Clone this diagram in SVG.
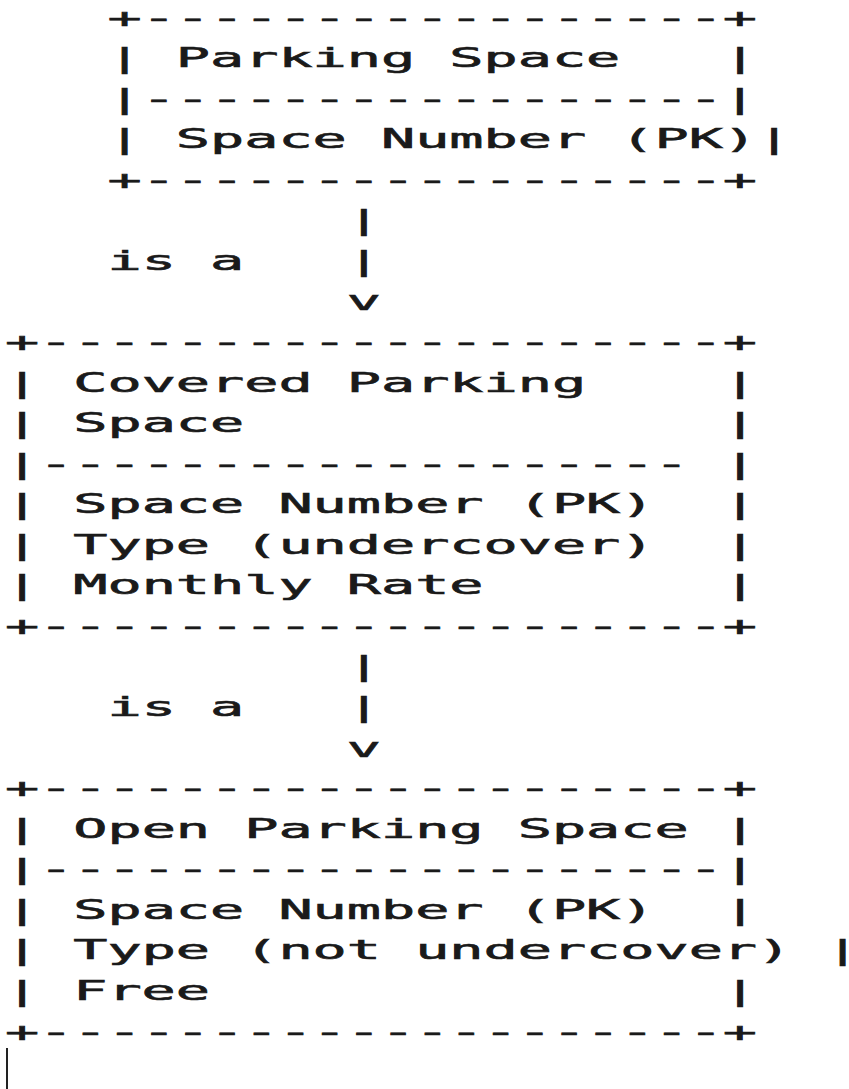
<svg xmlns="http://www.w3.org/2000/svg" width="849" height="1089" viewBox="0 0 849 1089">
<style>
text{font-family:"DejaVu Sans Mono","Liberation Mono",monospace;font-size:27.4px;fill:#1a1a1a;stroke:#1a1a1a;stroke-width:0.6px;white-space:pre}
</style>
<rect width="849" height="1089" fill="#ffffff"/>
<g id="node-parking-space">
<text x="107.47" y="26.5" textLength="649.61" lengthAdjust="spacingAndGlyphs">+-----------------+</text>
<text x="107.47" y="67.06" textLength="34.19" lengthAdjust="spacingAndGlyphs">|</text>
<text x="175.85" y="67.06" textLength="444.47" lengthAdjust="spacingAndGlyphs">Parking Space</text>
<text x="722.9" y="67.06" textLength="34.19" lengthAdjust="spacingAndGlyphs">|</text>
<text x="107.47" y="107.62" textLength="649.61" lengthAdjust="spacingAndGlyphs">|-----------------|</text>
<text x="107.47" y="148.18" textLength="34.19" lengthAdjust="spacingAndGlyphs">|</text>
<text x="175.85" y="148.18" textLength="581.23" lengthAdjust="spacingAndGlyphs">Space Number (PK)</text>
<text x="757.1" y="148.18" textLength="34.19" lengthAdjust="spacingAndGlyphs">|</text>
<text x="107.47" y="188.74" textLength="649.61" lengthAdjust="spacingAndGlyphs">+-----------------+</text>
</g>
<g id="connectors">
<text x="346.8" y="229.3" textLength="34.19" lengthAdjust="spacingAndGlyphs">|</text>
<text x="107.47" y="269.86" textLength="136.76" lengthAdjust="spacingAndGlyphs">is a</text>
<text x="346.8" y="269.86" textLength="34.19" lengthAdjust="spacingAndGlyphs">|</text>
<text x="346.8" y="310.42" textLength="34.19" lengthAdjust="spacingAndGlyphs">v</text>
<text x="346.8" y="675.46" textLength="34.19" lengthAdjust="spacingAndGlyphs">|</text>
<text x="107.47" y="716.02" textLength="136.76" lengthAdjust="spacingAndGlyphs">is a</text>
<text x="346.8" y="716.02" textLength="34.19" lengthAdjust="spacingAndGlyphs">|</text>
<text x="346.8" y="756.58" textLength="34.19" lengthAdjust="spacingAndGlyphs">v</text>
</g>
<g id="node-covered-parking-space">
<text x="4.9" y="350.98" textLength="752.18" lengthAdjust="spacingAndGlyphs">+--------------------+</text>
<text x="4.9" y="391.54" textLength="34.19" lengthAdjust="spacingAndGlyphs">|</text>
<text x="73.28" y="391.54" textLength="512.85" lengthAdjust="spacingAndGlyphs">Covered Parking</text>
<text x="722.9" y="391.54" textLength="34.19" lengthAdjust="spacingAndGlyphs">|</text>
<text x="4.9" y="432.1" textLength="34.19" lengthAdjust="spacingAndGlyphs">|</text>
<text x="73.28" y="432.1" textLength="170.95" lengthAdjust="spacingAndGlyphs">Space</text>
<text x="722.9" y="432.1" textLength="34.19" lengthAdjust="spacingAndGlyphs">|</text>
<text x="4.9" y="472.66" textLength="683.8" lengthAdjust="spacingAndGlyphs">|-------------------</text>
<text x="722.9" y="472.66" textLength="34.19" lengthAdjust="spacingAndGlyphs">|</text>
<text x="4.9" y="513.22" textLength="34.19" lengthAdjust="spacingAndGlyphs">|</text>
<text x="73.28" y="513.22" textLength="581.23" lengthAdjust="spacingAndGlyphs">Space Number (PK)</text>
<text x="722.9" y="513.22" textLength="34.19" lengthAdjust="spacingAndGlyphs">|</text>
<text x="4.9" y="553.78" textLength="34.19" lengthAdjust="spacingAndGlyphs">|</text>
<text x="73.28" y="553.78" textLength="581.23" lengthAdjust="spacingAndGlyphs">Type (undercover)</text>
<text x="722.9" y="553.78" textLength="34.19" lengthAdjust="spacingAndGlyphs">|</text>
<text x="4.9" y="594.34" textLength="34.19" lengthAdjust="spacingAndGlyphs">|</text>
<text x="73.28" y="594.34" textLength="410.28" lengthAdjust="spacingAndGlyphs">Monthly Rate</text>
<text x="722.9" y="594.34" textLength="34.19" lengthAdjust="spacingAndGlyphs">|</text>
<text x="4.9" y="634.9" textLength="752.18" lengthAdjust="spacingAndGlyphs">+--------------------+</text>
</g>
<g id="node-open-parking-space">
<text x="4.9" y="797.14" textLength="752.18" lengthAdjust="spacingAndGlyphs">+--------------------+</text>
<text x="4.9" y="837.7" textLength="34.19" lengthAdjust="spacingAndGlyphs">|</text>
<text x="73.28" y="837.7" textLength="615.42" lengthAdjust="spacingAndGlyphs">Open Parking Space</text>
<text x="722.9" y="837.7" textLength="34.19" lengthAdjust="spacingAndGlyphs">|</text>
<text x="4.9" y="878.26" textLength="752.18" lengthAdjust="spacingAndGlyphs">|--------------------|</text>
<text x="4.9" y="918.82" textLength="34.19" lengthAdjust="spacingAndGlyphs">|</text>
<text x="73.28" y="918.82" textLength="581.23" lengthAdjust="spacingAndGlyphs">Space Number (PK)</text>
<text x="722.9" y="918.82" textLength="34.19" lengthAdjust="spacingAndGlyphs">|</text>
<text x="4.9" y="959.38" textLength="34.19" lengthAdjust="spacingAndGlyphs">|</text>
<text x="73.28" y="959.38" textLength="717.99" lengthAdjust="spacingAndGlyphs">Type (not undercover)</text>
<text x="825.5" y="959.38" textLength="34.19" lengthAdjust="spacingAndGlyphs">|</text>
<text x="4.9" y="999.94" textLength="34.19" lengthAdjust="spacingAndGlyphs">|</text>
<text x="73.28" y="999.94" textLength="136.76" lengthAdjust="spacingAndGlyphs">Free</text>
<text x="722.9" y="999.94" textLength="34.19" lengthAdjust="spacingAndGlyphs">|</text>
<text x="4.9" y="1040.5" textLength="752.18" lengthAdjust="spacingAndGlyphs">+--------------------+</text>
</g>
<rect x="6" y="1048" width="2" height="41" fill="#222222"/>
</svg>
